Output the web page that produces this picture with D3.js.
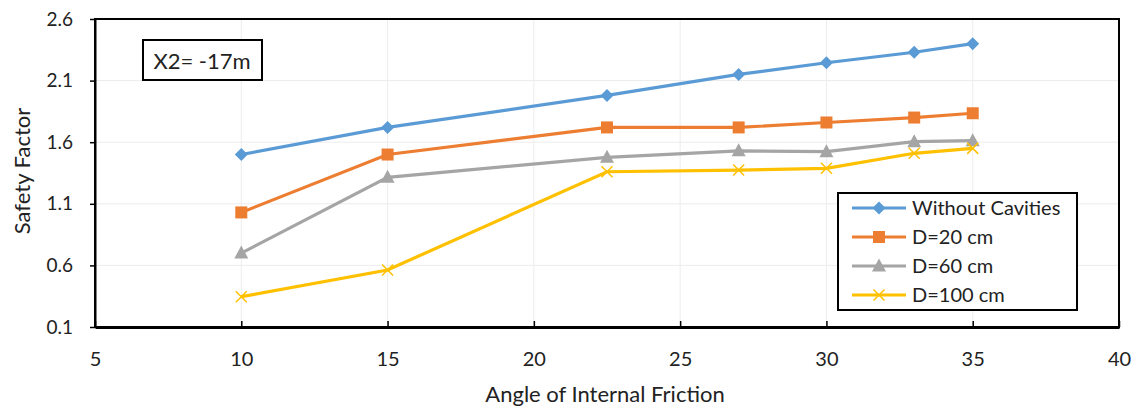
<!DOCTYPE html>
<html><head><meta charset="utf-8">
<script src="https://cdn.jsdelivr.net/npm/d3@7"></script>
<style>body{margin:0;background:#fff}svg{display:block}text{font-family:Lato,"Liberation Sans",Arial,sans-serif}</style>
</head><body>
<svg id="c" width="1136" height="418"></svg>
<script>
const angles = [10, 15, 22.5, 27, 30, 33, 35];
const seriesNames = ["Without Cavities", "D=20 cm", "D=60 cm", "D=100 cm"];
const withoutCavities = [1.50, 1.72, 1.98, 2.15, 2.245, 2.33, 2.40];
const d20 = [1.03, 1.50, 1.72, 1.72, 1.76, 1.80, 1.835];
const d60 = [0.70, 1.315, 1.477, 1.53, 1.523, 1.604, 1.612];
const d100 = [0.346, 0.563, 1.36, 1.374, 1.388, 1.51, 1.55];
const xTicks = [5, 10, 15, 20, 25, 30, 35, 40];
const yTicks = [0.1, 0.6, 1.1, 1.6, 2.1, 2.6];
const colors = ["#5B9BD5", "#ED7D31", "#A5A5A5", "#FFC000"];
const markers = ["diamond", "square", "triangle", "cross"];
const annotation = "X2= -17m";
const xTitle = "Angle of Internal Friction";
const yTitle = "Safety Factor";

const allSeries = [withoutCavities, d20, d60, d100];
const svg = d3.select("#c");
const L = 95, R = 1119, T = 19, B = 327;
const x = d3.scaleLinear().domain([5, 40]).range([L, R]);
const y = d3.scaleLinear().domain([0.1, 2.6]).range([B, T]);

// gridlines
svg.append("g").selectAll("line").data(xTicks.slice(1,-1)).join("line")
  .attr("x1", d => x(d)).attr("x2", d => x(d)).attr("y1", T).attr("y2", B)
  .attr("stroke", "#ececec").attr("stroke-width", 1);
svg.append("g").selectAll("line").data(yTicks.slice(1,-1)).join("line")
  .attr("x1", L).attr("x2", R).attr("y1", d => y(d)).attr("y2", d => y(d))
  .attr("stroke", "#ececec").attr("stroke-width", 1);

// frame
svg.append("rect").attr("x", L).attr("y", T).attr("width", R - L).attr("height", B - T)
  .attr("fill", "none").attr("stroke", "#000").attr("stroke-width", 2);

// axes
const xAxis = d3.axisBottom(x).tickValues(xTicks).tickSizeInner(-6).tickSizeOuter(0).tickPadding(25).tickFormat(d3.format("d"));
const gx = svg.append("g").attr("transform", `translate(0,${B})`).call(xAxis);
gx.select(".domain").attr("stroke", "#000").attr("stroke-width", 3);
gx.selectAll(".tick line").attr("stroke", "#000").attr("stroke-width", 1.5);
gx.selectAll("text").attr("font-size", 20).attr("fill", "#222");

const yAxis = d3.axisLeft(y).tickValues(yTicks).tickSizeInner(5).tickSizeOuter(0).tickPadding(17).tickFormat(d3.format(".1f"));
const gy = svg.append("g").attr("transform", `translate(${L},0)`).call(yAxis);
gy.select(".domain").attr("stroke", "#000").attr("stroke-width", 2);
gy.selectAll(".tick line").attr("stroke", "#000").attr("stroke-width", 1.5);
gy.selectAll("text").attr("font-size", 19).attr("fill", "#222");

// titles
svg.append("text").attr("x", 605).attr("y", 402).attr("text-anchor", "middle")
  .attr("font-size", 22).attr("fill", "#222").text(xTitle);
svg.append("text").attr("transform", `translate(30,${(T + B) / 2 - 2}) rotate(-90)`).attr("text-anchor", "middle")
  .attr("font-size", 22).attr("fill", "#222").text(yTitle);

// lines
const line = d3.line().x((d, i) => x(angles[i])).y(d => y(d));
function drawMarker(g, type, color, cx, cy) {
  if (type === "diamond") {
    g.append("path").attr("d", `M${cx},${cy-6.5}L${cx+6.5},${cy}L${cx},${cy+6.5}L${cx-6.5},${cy}Z`).attr("fill", color);
  } else if (type === "square") {
    g.append("rect").attr("x", cx - 6).attr("y", cy - 6).attr("width", 12).attr("height", 12).attr("fill", color);
  } else if (type === "triangle") {
    g.append("path").attr("d", `M${cx},${cy-7.5}L${cx+7},${cy+5.5}L${cx-7},${cy+5.5}Z`).attr("fill", color);
  } else {
    g.append("path").attr("d", `M${cx-5.5},${cy-5.5}L${cx+5.5},${cy+5.5}M${cx+5.5},${cy-5.5}L${cx-5.5},${cy+5.5}`)
      .attr("stroke", color).attr("stroke-width", 1.5);
  }
}
allSeries.forEach((vals, s) => {
  const g = svg.append("g");
  g.append("path").datum(vals).attr("d", line).attr("fill", "none")
    .attr("stroke", colors[s]).attr("stroke-width", 3.2);
  vals.forEach((v, i) => drawMarker(g, markers[s], colors[s], x(angles[i]), y(v)));
});

// annotation box
svg.append("rect").attr("x", 143).attr("y", 40).attr("width", 119).attr("height", 40)
  .attr("fill", "#fff").attr("stroke", "#000").attr("stroke-width", 2);
svg.append("text").attr("x", 202).attr("y", 69).attr("text-anchor", "middle")
  .attr("font-size", 22).attr("fill", "#222").text(annotation);

// legend
const lg = svg.append("g");
lg.append("rect").attr("x", 838).attr("y", 193).attr("width", 239).attr("height", 117)
  .attr("fill", "#fff").attr("stroke", "#000").attr("stroke-width", 2);
seriesNames.forEach((n, s) => {
  const ly = 208 + s * 29;
  lg.append("line").attr("x1", 852).attr("x2", 906).attr("y1", ly).attr("y2", ly)
    .attr("stroke", colors[s]).attr("stroke-width", 3.2);
  drawMarker(lg, markers[s], colors[s], 879, ly);
  lg.append("text").attr("x", 912).attr("y", ly + 7).attr("font-size", 20).attr("fill", "#222").text(n);
});
</script>
</body></html>
